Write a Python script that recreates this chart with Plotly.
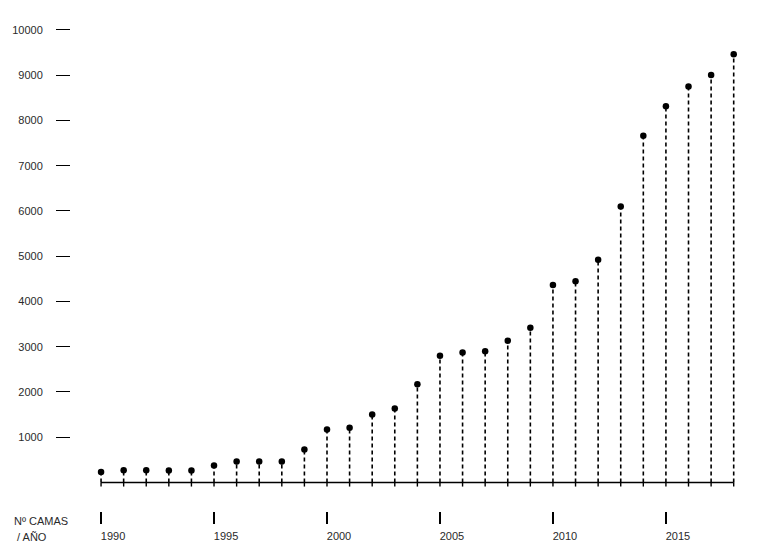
import plotly.graph_objects as go

# Nº de camas por año
years = list(range(1990, 2019))
camas = [230, 270, 270, 265, 265, 375, 465, 465, 465, 730, 1170, 1210, 1500,
         1635, 2170, 2800, 2875, 2900, 3135, 3420, 4365, 4445, 4925, 6100,
         7660, 8315, 8750, 9005, 9465]

y_ticks = [1000, 2000, 3000, 4000, 5000, 6000, 7000, 8000, 9000, 10000]
y_labels = [str(v) for v in y_ticks]
x_ticks = [1990, 1995, 2000, 2005, 2010, 2015]

# dashed stems from the baseline up to each value
stem_x, stem_y = [], []
for yr, v in zip(years, camas):
    stem_x += [yr, yr, None]
    stem_y += [0, v, None]

# little ticks under the baseline
stub_x, stub_y = [], []
for yr in years:
    stub_x += [yr, yr, None]
    stub_y += [0, -90, None]

fig = go.Figure()
fig.add_trace(go.Scatter(x=stem_x, y=stem_y, mode='lines',
                         line=dict(color='black', width=1.6, dash='4px,3px')))
fig.add_trace(go.Scatter(x=stub_x, y=stub_y, mode='lines',
                         line=dict(color='black', width=1.4)))
fig.add_trace(go.Scatter(x=[years[0], years[-1]], y=[0, 0], mode='lines',
                         line=dict(color='black', width=1.6)))
fig.add_trace(go.Scatter(x=years, y=camas, mode='markers',
                         marker=dict(color='black', size=6.5)))

fig.update_layout(
    width=761, height=554,
    margin=dict(l=71, r=16, t=15, b=43),
    plot_bgcolor='white', paper_bgcolor='white',
    showlegend=False,
    font=dict(family='Liberation Sans, Arial', size=11, color='#2a2a2a'),
    xaxis=dict(range=[1988.67, 2018.5], tickvals=x_ticks, ticks='outside',
               ticklen=12, tickwidth=1.5, tickcolor='black', showgrid=False,
               zeroline=False, showline=False, ticklabelshift=12,
               ticklabelstandoff=3, automargin=False),
    yaxis=dict(range=[-630, 10331], tickvals=y_ticks, ticktext=y_labels,
               ticks='outside', ticklen=14, tickwidth=1.4, tickcolor='black',
               showgrid=False, zeroline=False, showline=False,
               ticklabelstandoff=11, automargin=False),
    annotations=[
        dict(text='Nº CAMAS', xref='paper', yref='paper', x=-0.0875, y=-0.02,
             xanchor='left', yanchor='middle', showarrow=False),
        dict(text=' / AÑO', xref='paper', yref='paper', x=-0.0875, y=-0.052,
             xanchor='left', yanchor='middle', showarrow=False),
    ],
)

# drop the page's default body margin so the chart sits at the window corner
fig.write_html("out.html", config={'displayModeBar': False},
               post_script="document.body.style.margin='0';")
